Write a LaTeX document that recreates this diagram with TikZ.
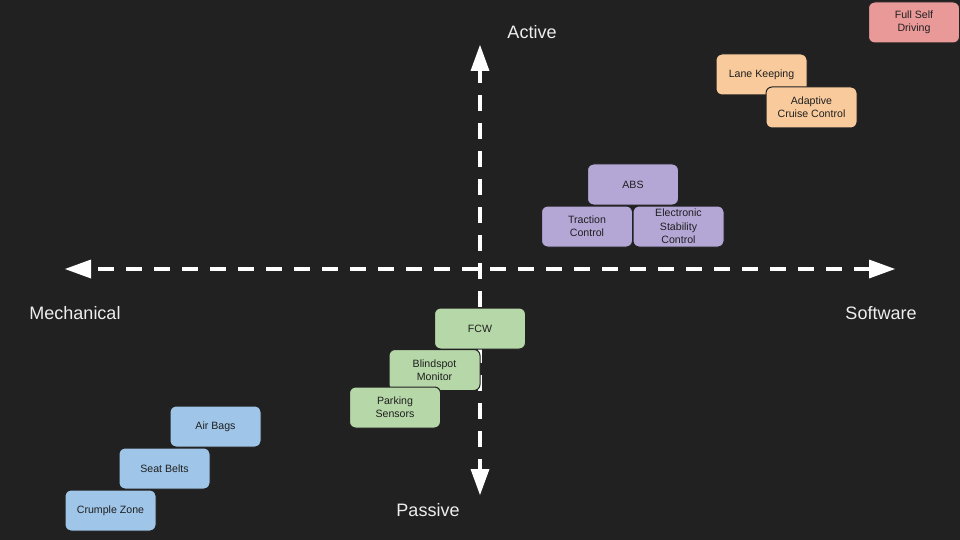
\documentclass[tikz,border=0pt]{standalone}
\usepackage{fontspec}
\setmainfont{Liberation Sans}
\usetikzlibrary{arrows.meta}
\definecolor{bgc}{HTML}{212121}
\definecolor{boxtext}{HTML}{1F1F1F}
\definecolor{cblue}{HTML}{9FC5E8}
\definecolor{cgreen}{HTML}{B6D7A8}
\definecolor{cpurple}{HTML}{B4A7D6}
\definecolor{corange}{HTML}{F9CB9C}
\definecolor{cred}{HTML}{EA9999}
\definecolor{axc}{HTML}{FFFFFF}
\definecolor{labc}{HTML}{EEEEEE}
\tikzset{
  item/.style={draw=bgc, line width=1pt, rounded corners=6pt,
    minimum width=91pt, minimum height=41pt, inner sep=0pt,
    align=center, text=boxtext,
    font=\fontsize{10.6pt}{13.3pt}\selectfont},
  axisline/.style={draw=axc, line width=4pt,
    dash pattern=on 16pt off 12pt,
    {Triangle[length=26pt,width=19pt,line width=0pt]}-{Triangle[length=26pt,width=19pt,line width=0pt]}},
  axislabel/.style={text=labc, inner sep=0pt,
    font=\fontsize{18pt}{21pt}\selectfont}
}
\begin{document}
\begin{tikzpicture}[x=1pt,y=-1pt]
  \fill[bgc] (0,0) rectangle (960,540);
  \useasboundingbox (0,0) rectangle (960,540);
  % axes
  \coordinate (L) at (65,269);
  \coordinate (R) at (895,269);
  \coordinate (T) at (480,45);
  \coordinate (B) at (480,495);
  \draw[axisline, dash phase=21pt] (L) -- (R);
  \draw[axisline, dash phase=4pt] (T) -- (B);
  % axis labels
  \node[axislabel] (active) at (532,32) {Active};
  \node[axislabel] (passive) at (428,510) {Passive};
  \node[axislabel] (mech) at (75,313) {Mechanical};
  \node[axislabel] (soft) at (881,313) {Software};
  % boxes
  \begin{scope}[every node/.append style={yshift=0pt}]
  \node[item, fill=cred] (fsd) at (914,22.5) {Full Self\\Driving};
  \node[item, fill=corange] (lk) at (761.5,74.5) {Lane Keeping};
  \node[item, fill=corange] (acc) at (811.5,107.5) {Adaptive\\Cruise Control};
  \node[item, fill=cpurple] (abs) at (633,184.5) {ABS};
  \node[item, fill=cpurple] (tc) at (587,226.5) {Traction\\Control};
  \node[item, fill=cpurple] (esc) at (678.5,226.5) {Electronic\\Stability\\Control};
  \node[item, fill=cgreen] (fcw) at (480,328.5) {FCW};
  \node[item, fill=cgreen] (bsm) at (434.5,370) {Blindspot\\Monitor};
  \node[item, fill=cgreen] (ps) at (395,407.5) {Parking\\Sensors};
  \node[item, fill=cblue] (ab) at (215.5,426.5) {Air Bags};
  \node[item, fill=cblue] (sb) at (164.5,468.5) {Seat Belts};
  \node[item, fill=cblue] (cz) at (110.5,510.5) {Crumple Zone};
  \end{scope}
\end{tikzpicture}
\end{document}
